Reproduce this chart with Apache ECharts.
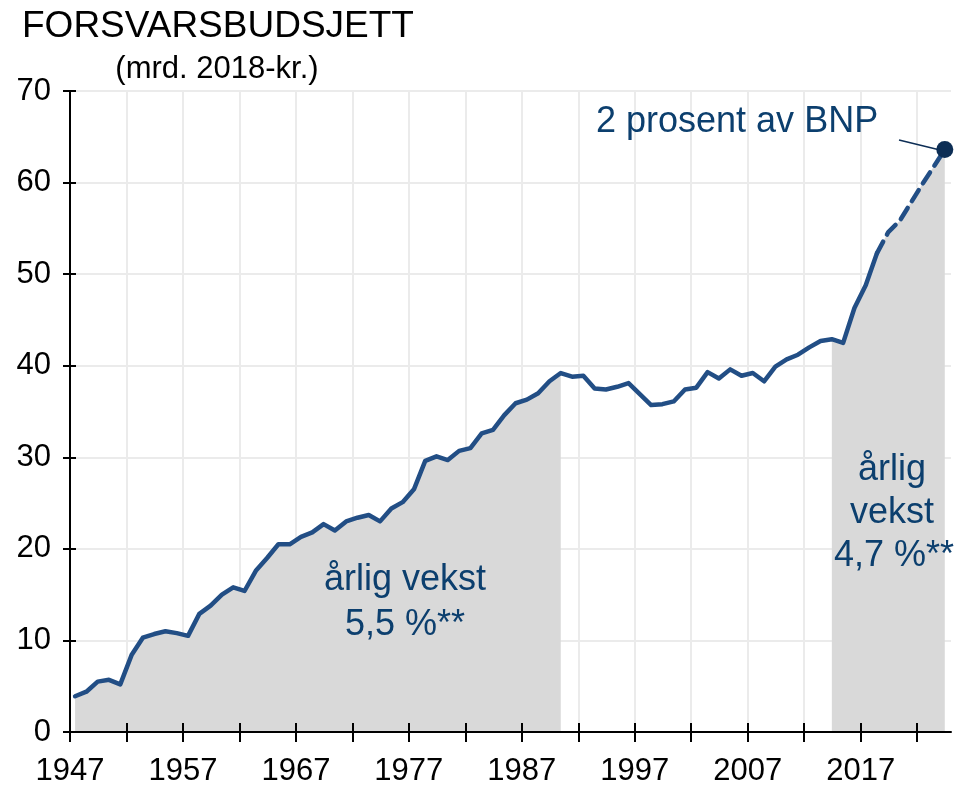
<!DOCTYPE html>
<html>
<head>
<meta charset="utf-8">
<script src="https://cdn.jsdelivr.net/npm/echarts@6/dist/echarts.min.js"></script>
<style>
  html, body { margin: 0; padding: 0; background: #ffffff; }
  #chart { width: 968px; height: 787px; }
</style>
</head>
<body>
<div id="chart"></div>
<script>
// ---- data ----
const years = [1947,1948,1949,1950,1951,1952,1953,1954,1955,1956,1957,1958,1959,1960,1961,1962,1963,1964,1965,1966,1967,1968,1969,1970,1971,1972,1973,1974,1975,1976,1977,1978,1979,1980,1981,1982,1983,1984,1985,1986,1987,1988,1989,1990,1991,1992,1993,1994,1995,1996,1997,1998,1999,2000,2001,2002,2003,2004,2005,2006,2007,2008,2009,2010,2011,2012,2013,2014,2015,2016,2017,2018];
const budget = [3.9,4.4,5.5,5.7,5.2,8.4,10.3,10.7,11.0,10.8,10.5,12.9,13.8,15.0,15.8,15.4,17.6,19.0,20.5,20.5,21.3,21.8,22.7,22.0,23.0,23.4,23.7,23.0,24.4,25.1,26.5,29.6,30.1,29.7,30.7,31.0,32.6,33.0,34.6,35.9,36.3,37.0,38.3,39.2,38.8,38.9,37.5,37.4,37.7,38.1,36.9,35.7,35.8,36.1,37.4,37.6,39.3,38.6,39.6,38.9,39.2,38.3,39.9,40.7,41.2,42.0,42.7,42.9,42.5,46.3,48.8,52.3];
const planYears = [2018,2019,2020,2021,2022,2023,2024];
const planBudget = [52.3,54.6,55.8,57.8,59.8,61.7,63.6];
const growthPeriod1 = [1947, 1990];
const growthPeriod2 = [2014, 2024];
const xTickValues = [1947,1952,1957,1962,1967,1972,1977,1982,1987,1992,1997,2002,2007,2012,2017,2022];
const xLabelValues = [1947,1957,1967,1977,1987,1997,2007,2017];

// annual values are plotted at mid-year
const MID = 0.45;
const hist = years.map((y, i) => [y + MID, budget[i]]);
const plan = planYears.map((y, i) => [y + MID, planBudget[i]]);
const all = hist.concat(plan.slice(1));
const inRange = (r) => all.filter(p => p[0] >= r[0] + MID - 1e-6 && p[0] <= r[1] + MID + 1e-6);

const FONT = "'Liberation Sans', Arial, sans-serif";
const LINE = '#224e85';
const TXT = '#0c3f6e';
const FILL = '#d9d9d9';
const GRIDC = '#ebebeb';
const BLACK = '#000000';

const chart = echarts.init(document.getElementById('chart'), null, { renderer: 'canvas' });

const xBase = { type: 'value', min: 1947, max: 2025, interval: 5, position: 'bottom' };
const yBase = { type: 'value', min: 0, max: 70, interval: 10, position: 'left' };

const option = {
  animation: false,
  backgroundColor: '#ffffff',
  grid: { left: 70, right: 17, top: 91, bottom: 55, containLabel: false },
  xAxis: [
    Object.assign({}, xBase, { z: 0,
      axisLine: { show: false, onZero: false }, axisTick: { show: false }, axisLabel: { show: false },
      splitLine: { show: true, showMinLine: false, showMaxLine: false, lineStyle: { color: GRIDC, width: 2 } } }),
    Object.assign({}, xBase, { z: 5,
      axisLine: { show: true, onZero: false, lineStyle: { color: BLACK, width: 2 } },
      axisTick: { show: true, length: 10, customValues: xTickValues, lineStyle: { color: BLACK, width: 2 } },
      axisLabel: { show: true, customValues: xLabelValues, margin: 24, color: BLACK, fontSize: 31, fontFamily: FONT,
        formatter: v => String(Math.round(v)) },
      splitLine: { show: false } }),
    Object.assign({}, xBase, { z: 5,
      axisLine: { show: false, onZero: false },
      axisTick: { show: true, inside: true, length: 9, customValues: xTickValues, lineStyle: { color: BLACK, width: 2 } },
      axisLabel: { show: false }, splitLine: { show: false } })
  ],
  yAxis: [
    Object.assign({}, yBase, { z: 0,
      axisLine: { show: false, onZero: false }, axisTick: { show: false }, axisLabel: { show: false },
      splitLine: { show: true, showMinLine: false, lineStyle: { color: GRIDC, width: 2 } } }),
    Object.assign({}, yBase, { z: 5,
      axisLine: { show: true, onZero: false, lineStyle: { color: BLACK, width: 2 } },
      axisTick: { show: true, length: 7, lineStyle: { color: BLACK, width: 2 } },
      axisLabel: { show: true, margin: 19, color: BLACK, fontSize: 31, fontFamily: FONT },
      splitLine: { show: false } }),
    Object.assign({}, yBase, { z: 5,
      axisLine: { show: false, onZero: false },
      axisTick: { show: true, inside: true, length: 6, lineStyle: { color: BLACK, width: 2 } },
      axisLabel: { show: false }, splitLine: { show: false } })
  ],
  series: [
    { name: 'vekst1', type: 'line', data: inRange(growthPeriod1), symbol: 'none', z: 1,
      lineStyle: { width: 0, opacity: 0 }, areaStyle: { color: FILL, opacity: 1 }, silent: true },
    { name: 'vekst2', type: 'line', data: inRange(growthPeriod2), symbol: 'none', z: 1,
      lineStyle: { width: 0, opacity: 0 }, areaStyle: { color: FILL, opacity: 1 }, silent: true },
    { name: 'Forsvarsbudsjett', type: 'line', data: hist, symbol: 'none', z: 3,
      lineStyle: { color: LINE, width: 4.5, join: 'round', cap: 'round' } },
    { name: 'Plan', type: 'line', data: plan, symbol: 'none', z: 3,
      lineStyle: { color: LINE, width: 4.5, type: [13, 8], cap: 'round' } },
    { name: '2 prosent', type: 'scatter', data: [plan[plan.length - 1]], symbolSize: 17, z: 4,
      itemStyle: { color: '#0d2e55', opacity: 1 } }
  ],
  graphic: [
    { type: 'text', style: { x: 22, y: 27, text: 'FORSVARSBUDSJETT', fill: BLACK, font: '37px ' + FONT, textVerticalAlign: 'middle' } },
    { type: 'text', style: { x: 217, y: 69, text: '(mrd. 2018-kr.)', fill: BLACK, font: '31px ' + FONT, textAlign: 'center', textVerticalAlign: 'middle' } },
    { type: 'text', z: 10, style: { x: 405, y: 580, text: 'årlig vekst', fill: TXT, font: '36px ' + FONT, textAlign: 'center', textVerticalAlign: 'middle' } },
    { type: 'text', z: 10, style: { x: 405, y: 625, text: '5,5 %**', fill: TXT, font: '36px ' + FONT, textAlign: 'center', textVerticalAlign: 'middle' } },
    { type: 'text', z: 10, style: { x: 892, y: 470, text: 'årlig', fill: TXT, font: '36px ' + FONT, textAlign: 'center', textVerticalAlign: 'middle' } },
    { type: 'text', z: 10, style: { x: 892, y: 513, text: 'vekst', fill: TXT, font: '36px ' + FONT, textAlign: 'center', textVerticalAlign: 'middle' } },
    { type: 'text', z: 10, style: { x: 894, y: 556, text: '4,7 %**', fill: TXT, font: '36px ' + FONT, textAlign: 'center', textVerticalAlign: 'middle' } },
    { type: 'text', z: 10, style: { x: 596, y: 122, text: '2 prosent av BNP', fill: TXT, font: '36px ' + FONT, textVerticalAlign: 'middle' } },
    { type: 'line', z: 10, shape: { x1: 899, y1: 140, x2: 940, y2: 150 }, style: { stroke: '#0d2e55', lineWidth: 1.5 } }
  ]
};
chart.setOption(option);
</script>
</body>
</html>
